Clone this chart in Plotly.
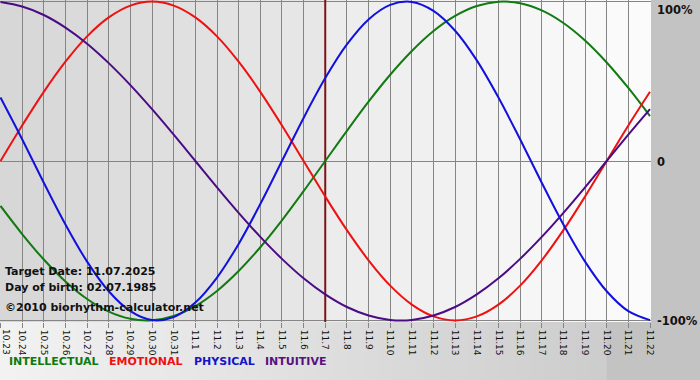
import plotly.graph_objects as go

# ---------------- data ----------------
dates = ["10.23", "10.24", "10.25", "10.26", "10.27", "10.28", "10.29", "10.30", "10.31",
         "11.1", "11.2", "11.3", "11.4", "11.5", "11.6", "11.7", "11.8", "11.9", "11.10",
         "11.11", "11.12", "11.13", "11.14", "11.15", "11.16", "11.17", "11.18", "11.19",
         "11.20", "11.21", "11.22"]
intellectual = [-0.282, -0.458, -0.618, -0.756, -0.866, -0.945, -0.990, -0.999, -0.972,
                -0.910, -0.815, -0.690, -0.541, -0.372, -0.189, 0.000, 0.189, 0.372, 0.541,
                0.690, 0.815, 0.910, 0.972, 0.999, 0.990, 0.945, 0.866, 0.756, 0.618, 0.458,
                0.282]
emotional = [0.000, 0.223, 0.434, 0.623, 0.782, 0.901, 0.975, 1.000, 0.975, 0.901, 0.782,
             0.623, 0.434, 0.223, 0.000, -0.223, -0.434, -0.623, -0.782, -0.901, -0.975,
             -1.000, -0.975, -0.901, -0.782, -0.623, -0.434, -0.223, 0.000, 0.223, 0.434]
physical = [0.398, 0.136, -0.136, -0.398, -0.631, -0.817, -0.942, -0.998, -0.979, -0.888,
            -0.731, -0.520, -0.270, 0.000, 0.270, 0.520, 0.731, 0.888, 0.979, 0.998, 0.942,
            0.817, 0.631, 0.398, 0.136, -0.136, -0.398, -0.631, -0.817, -0.942, -0.998]
intuitive = [0.997, 0.969, 0.916, 0.837, 0.736, 0.614, 0.476, 0.325, 0.165, 0.000, -0.165,
             -0.325, -0.476, -0.614, -0.736, -0.837, -0.916, -0.969, -0.997, -0.997, -0.969,
             -0.916, -0.837, -0.736, -0.614, -0.476, -0.325, -0.165, 0.000, 0.165, 0.325]
target_label = "11.7"
y_tick_vals = [1, 0, -1]
y_tick_text = ["100%", "0", "-100%"]
info_lines = ["Target Date: 11.07.2025", "Day of birth: 02.07.1985",
              "\u00a92010 biorhythm-calculator.net"]
legend_names = ["INTELLECTUAL", "EMOTIONAL", "PHYSICAL", "INTUITIVE"]

# ---------------- styles ----------------
colors = {"INTELLECTUAL": "#117a11", "EMOTIONAL": "#ee1111",
          "PHYSICAL": "#1111dd", "INTUITIVE": "#4a0c84"}
legend_colors = {"INTELLECTUAL": "#0c7a0c", "EMOTIONAL": "#ee1010",
                 "PHYSICAL": "#1414c8", "INTUITIVE": "#581080"}
FONT = "DejaVu Sans"
W, H = 700, 380
ML, MR, MT, MB = 0, 49, 0, 58
PW, PH = W - ML - MR, H - MT - MB

x = list(range(len(dates)))
t_idx = dates.index(target_label)

def gray(v):
    v = int(round(v))
    return f"rgb({v},{v},{v})"

fig = go.Figure()

# target date line (drawn under the curves)
fig.add_trace(go.Scatter(x=[t_idx, t_idx], y=[-1.02, 1.02], mode="lines",
                         line=dict(color="#7c1414", width=2), hoverinfo="skip",
                         showlegend=False))

series = [("INTELLECTUAL", intellectual), ("EMOTIONAL", emotional),
          ("PHYSICAL", physical), ("INTUITIVE", intuitive)]
for name, vals in series:
    fig.add_trace(go.Scatter(x=x, y=vals, mode="lines", name=name,
                             line=dict(color=colors[name], width=2, shape="spline",
                                       smoothing=1.0),
                             showlegend=False))

shapes = []
# plot-area background gradient (darker before target date, lighter after)
n = len(dates) - 1
for k in range(n):
    if k < t_idx:
        c = 215 + (231 - 215) * k / max(t_idx - 1, 1)
    else:
        c = 236 + (251 - 236) * (k - t_idx) / max(n - 1 - t_idx, 1)
    shapes.append(dict(type="rect", xref="x", yref="y",
                       x0=(k - 0.1 if k == 0 else k), x1=(k + 1.1 if k == n - 1 else k + 1),
                       y0=-1.05, y1=1.05, fillcolor=gray(c), line=dict(width=0),
                       layer="below"))

# bottom strip gradient (outside plot)
px_right = 1 - MR / W
steps = 40
for k in range(steps):
    c = 242 - (242 - 205) * k / (steps - 1)
    shapes.append(dict(type="rect", xref="paper", yref="paper",
                       x0=px_right * k / steps, x1=px_right * (k + 1) / steps + 0.002,
                       y0=-1, y1=0, fillcolor=gray(c), line=dict(width=0),
                       layer="below"))

annotations = []
for v, txt in zip(y_tick_vals, y_tick_text):
    annotations.append(dict(x=1, xref="paper", y=v, yref="y", text=f"<b>{txt}</b>",
                            showarrow=False, xanchor="left",
                            yanchor=("top" if v == 1 else "middle"),
                            xshift=4, yshift=(1 if v == 1 else -1),
                            font=dict(family=FONT, size=11.5, color="#111111")))

info_y = [271, 287, 307]
for txt, yy in zip(info_lines, info_y):
    annotations.append(dict(x=3 / PW, xref="paper", y=1 - yy / PH, yref="paper",
                            text=f"<b>{txt}</b>", showarrow=False, xanchor="left",
                            yanchor="middle",
                            font=dict(family=FONT, size=11, color="#111111")))

legend_x = [7, 107, 192, 263]
for name, lx in zip(legend_names, legend_x):
    annotations.append(dict(x=lx / PW, xref="paper",
                            y=-(361 - (H - MB)) / PH, yref="paper",
                            text=f"<b>{name}</b>", showarrow=False, xanchor="left",
                            yanchor="middle",
                            font=dict(family=FONT, size=11, color=legend_colors[name])))

# first date label: nudged inside the left edge so it is not cut off
tick_text = [""] + dates[1:]
annotations.append(dict(x=0, xref="paper", y=0, yref="paper", text=dates[0],
                        textangle=90, showarrow=False, xanchor="left", yanchor="top",
                        xshift=0, yshift=-6, borderpad=0,
                        font=dict(family=FONT, size=9, color="#111111")))

x_pad_left = 0.5 / 21.65
fig.update_layout(
    width=W, height=H,
    margin=dict(l=ML, r=MR, t=MT, b=MB, pad=0),
    paper_bgcolor="#c3c3c3",
    plot_bgcolor="#e0e0e0",
    showlegend=False,
    shapes=shapes,
    annotations=annotations,
    xaxis=dict(range=[-x_pad_left, n + 0.046], tickmode="array", tickvals=x,
               ticktext=tick_text, tickangle=90, showgrid=True, gridcolor="#858585",
               gridwidth=1, zeroline=False, showline=False, ticks="outside",
               ticklen=5, tickcolor="#858585", tickwidth=1,
               ticklabeloverflow="allow",
               tickfont=dict(family=FONT, size=9, color="#111111"),
               automargin=False, fixedrange=True),
    yaxis=dict(range=[-1.01, 1.01], tickmode="array", tickvals=y_tick_vals,
               showticklabels=False, showgrid=True, gridcolor="#858585", gridwidth=1,
               zeroline=False, showline=False, automargin=False, fixedrange=True),
)

fig.write_html("out.html")
